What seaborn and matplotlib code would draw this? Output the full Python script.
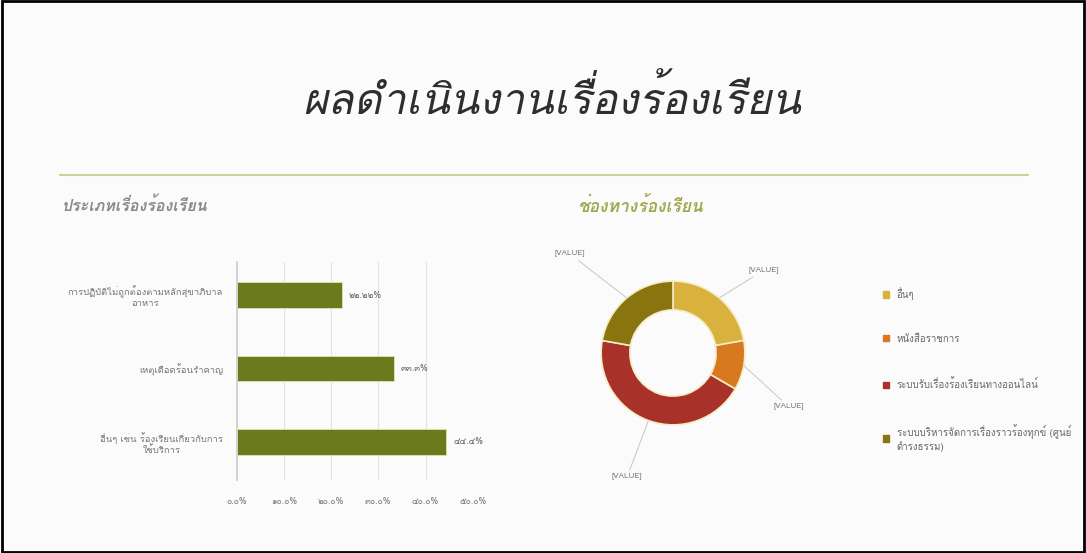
import numpy as np
import pandas as pd
import matplotlib
matplotlib.use("Agg")
import matplotlib.pyplot as plt
import matplotlib.font_manager as fm
import seaborn as sns
from fontTools.ttLib import TTFont

# data
title = "ผลดำเนินงานเรื่องร้องเรียน"
bar_title = "ประเภทเรื่องร้องเรียน"
pie_title = "ช่องทางร้องเรียน"

bar_cats = ["การปฏิบัติไม่ถูกต้องตามหลักสุขาภิบาล\nอาหาร",
            "เหตุเดือดร้อนรำคาญ",
            "อื่นๆ เช่น ร้องเรียนเกี่ยวกับการ\nใช้บริการ"]
bar_vals = [22.22, 33.3, 44.4]
bar_labels = ["๒๒.๒๒%", "๓๓.๓%", "๔๔.๔%"]

pie_cats = ["อื่นๆ",
            "หนังสือราชการ",
            "ระบบรับเรื่องร้องเรียนทางออนไลน์",
            "ระบบบริหารจัดการเรื่องราวร้องทุกข์ (ศูนย์\nดำรงธรรม)"]
pie_vals = [2, 1, 4, 2]
pie_colors = ["#d8b23c", "#d9791f", "#a8322a", "#8a7410"]


def find_thai_font():
    for f in fm.fontManager.ttflist:
        try:
            cmap = TTFont(f.fname, fontNumber=0, lazy=True).getBestCmap()
        except Exception:
            continue
        if cmap and ord("ผ") in cmap and ord("๒") in cmap:
            return f.name
    return None


sns.set_theme(style="white")
thai = find_thai_font()
fams = ([thai] if thai else []) + ["DejaVu Sans"]
plt.rcParams["font.family"] = fams

thai_digits = str.maketrans("0123456789", "๐๑๒๓๔๕๖๗๘๙")

fig = plt.figure(figsize=(10.86, 5.53), dpi=100)
fig.patch.set_facecolor("#fbfbfb")

# frame
fig.add_artist(plt.Rectangle((0.002, 0.002), 0.996, 0.996, transform=fig.transFigure,
                             fill=False, edgecolor="black", linewidth=2))

fig.text(0.508, 0.82, title, ha="center", va="center", fontsize=31,
         style="italic", color="#2e2e2e")
fig.add_artist(plt.Line2D([0.055, 0.947], [0.684, 0.684], transform=fig.transFigure,
                          color="#c5d49a", linewidth=1.5))
fig.text(0.057, 0.628, bar_title, ha="left", va="center", fontsize=11.5,
         style="italic", fontweight="bold", color="#8a8a8a")
fig.text(0.532, 0.628, pie_title, ha="left", va="center", fontsize=12.5,
         style="italic", fontweight="bold", color="#a3a84e")

# bar chart
ax = fig.add_axes([0.218, 0.132, 0.2173, 0.394])
ax.set_facecolor("none")
df = pd.DataFrame({"cat": bar_cats, "val": bar_vals})
sns.barplot(data=df, x="val", y="cat", color="#6b7a1c", width=0.35, ax=ax,
            saturation=1, edgecolor="#dfe6a8", linewidth=0.6)
ax.set_xlim(0, 50)
ax.set_ylim(2.52, -0.45)
ax.set_xticks(np.arange(0, 51, 10))
ax.set_xticklabels([f"{t:.1f}%".translate(thai_digits) for t in np.arange(0, 51, 10)])
ax.xaxis.grid(True, color="#e3e3e3", linewidth=0.8)
ax.set_axisbelow(True)
for s in ["top", "right", "bottom"]:
    ax.spines[s].set_visible(False)
ax.spines["left"].set_color("#d0d0d0")
ax.tick_params(axis="x", length=0, labelsize=6.3, colors="#777777", pad=12)
ax.tick_params(axis="y", length=0, labelsize=6.8, colors="#777777", pad=10)
ax.set_xlabel("")
ax.set_ylabel("")
for lab in ax.get_yticklabels():
    lab.set_horizontalalignment("right")
    lab.set_multialignment("center")
for i, (v, t) in enumerate(zip(bar_vals, bar_labels)):
    ax.text(v + 1.5, i, t, va="center", ha="left", fontsize=6.3, color="#666666")

# donut
pax = fig.add_axes([553 / 1086, 1 - 473 / 553, 240 / 1086, 240 / 553])
pax.set_facecolor("none")
wedges, _ = pax.pie(pie_vals, colors=pie_colors, startangle=90, counterclock=False,
                    radius=1, wedgeprops=dict(width=0.4, edgecolor="#f6ecc6", linewidth=1.2))
pax.set_xlim(-1.67, 1.67)
pax.set_ylim(-1.67, 1.67)
pax.set_aspect("equal")
pax.axis("off")

label_pos = [(1.05, 1.15), (1.4, -0.75), (-0.85, -1.72), (-1.65, 1.38)]
for w, (tx, ty) in zip(wedges, label_pos):
    ang = np.deg2rad((w.theta1 + w.theta2) / 2)
    x, y = np.cos(ang), np.sin(ang)
    pax.annotate("[VALUE]", xy=(x, y), xytext=(tx, ty), fontsize=5.8, color="#777777",
                 ha="left", va="center", annotation_clip=False,
                 arrowprops=dict(arrowstyle="-", color="#cccccc", linewidth=0.8,
                                 shrinkA=0, shrinkB=0))

handles = [plt.Rectangle((0, 0), 1, 1, color=c) for c in pie_colors]
leg = fig.legend(handles, pie_cats, loc="upper left", bbox_to_anchor=(0.805, 0.497),
                 frameon=False, fontsize=7, handlelength=0.6, handleheight=0.6,
                 handletextpad=0.8, labelspacing=3.55, labelcolor="#666666")

fig.savefig("out.png", dpi=100, facecolor=fig.get_facecolor())
